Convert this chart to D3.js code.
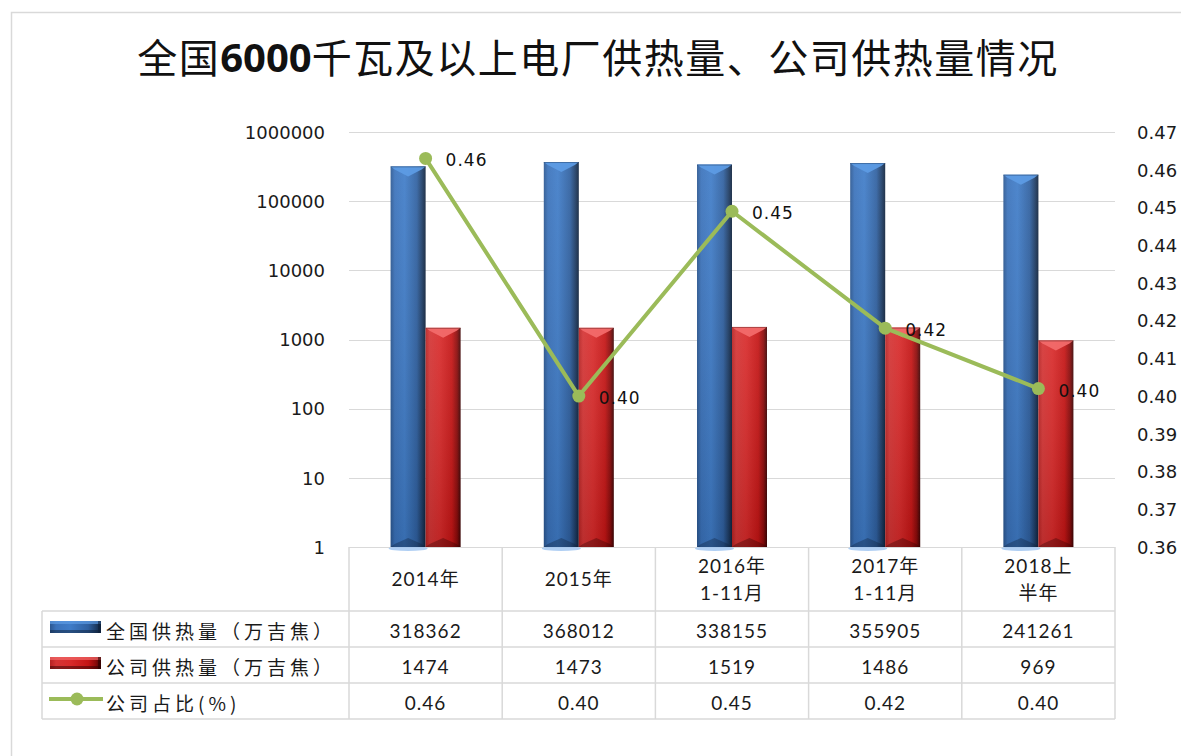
<!DOCTYPE html>
<html lang="zh">
<head>
<meta charset="UTF-8">
<title>全国6000千瓦及以上电厂供热量、公司供热量情况</title>
<style>
  body { margin: 0; background: #fff; }
  svg { display: block; }
  .tick-label { font-family: "DejaVu Sans", sans-serif; font-size: 18px; fill: #1a1a1a; }
  .cell { font-family: Lato, "Noto Sans CJK SC", sans-serif; font-size: 19px; fill: #1a1a1a; letter-spacing: 1px; }
  .legend-text { font-family: "Noto Sans CJK SC", sans-serif; font-size: 19px; fill: #1a1a1a; letter-spacing: 4px; }
  .data-label { font-family: "DejaVu Sans", sans-serif; font-size: 17px; fill: #111; letter-spacing: 1px; }
</style>
</head>
<body>
<svg id="chart" width="1181" height="756"></svg>
<script src="https://cdn.jsdelivr.net/npm/d3@7/dist/d3.min.js"></script>
<script>
const categories = ["2014年", "2015年", "2016年\n1-11月", "2017年\n1-11月", "2018上\n半年"];
const nationalHeat = [318362, 368012, 338155, 355905, 241261];
const companyHeat = [1474, 1473, 1519, 1486, 969];
const companyShare = [0.463, 0.400, 0.449, 0.418, 0.402];
const leftTicks = [1, 10, 100, 1000, 10000, 100000, 1000000];
const rightTicks = [0.36, 0.37, 0.38, 0.39, 0.40, 0.41, 0.42, 0.43, 0.44, 0.45, 0.46, 0.47];
const seriesNames = ["全国供热量（万吉焦）", "公司供热量（万吉焦）", "公司占比(%)"];

const width = 1181, height = 756;
const plot = {left: 349, right: 1115, top: 132, bottom: 547};
const tableLeft = 42;
const rowLines = [547, 611, 647, 683, 719];
const barW = 35;

const svg = d3.select("#chart");
const defs = svg.append("defs");

// bar gradients
function hGrad(id, stops) {
  const g = defs.append("linearGradient").attr("id", id)
    .attr("x1", "0%").attr("x2", "100%").attr("y1", "0%").attr("y2", "0%");
  stops.forEach(s => g.append("stop").attr("offset", s[0]).attr("stop-color", s[1]));
}
hGrad("blueGrad", [["0%", "#2b5791"], ["12%", "#3a72bb"], ["40%", "#3f7cc8"], ["75%", "#2f60a0"], ["90%", "#1e3d66"], ["100%", "#10233d"]]);
hGrad("redGrad", [["0%", "#b62222"], ["12%", "#d43434"], ["40%", "#d82a2a"], ["75%", "#c41414"], ["90%", "#8a0a0a"], ["100%", "#3e0404"]]);
const vg = defs.append("linearGradient").attr("id", "shade")
  .attr("x1", "0%").attr("x2", "0%").attr("y1", "0%").attr("y2", "100%");
vg.append("stop").attr("offset", "0%").attr("stop-color", "#fff").attr("stop-opacity", 0.08);
vg.append("stop").attr("offset", "100%").attr("stop-color", "#000").attr("stop-opacity", 0.12);

// frame
svg.append("rect").attr("x", 11.5).attr("y", 12.5).attr("width", 1200).attr("height", 800)
  .attr("fill", "none").attr("stroke", "#d9d9d9").attr("stroke-width", 1.5);

// title
const title = svg.append("text").attr("x", 598).attr("y", 56)
  .attr("text-anchor", "middle").attr("dominant-baseline", "central")
  .style("font-family", "\"Noto Sans CJK SC\", sans-serif").style("font-size", "40px")
  .style("letter-spacing", "1.5px").style("fill", "#111");
title.append("tspan").text("全国");
title.append("tspan").style("font-weight", "bold").style("font-family", "\"Open Sans\", sans-serif").style("letter-spacing", "0px").text("6000");
title.append("tspan").text("千瓦及以上电厂供热量、公司供热量情况");

// scales
const x = d3.scaleBand().domain(categories).range([plot.left, plot.right]);
const y = d3.scaleLog().domain([1, 1000000]).range([plot.bottom, plot.top]);
const y2 = d3.scaleLinear().domain([0.36, 0.47]).range([plot.bottom, plot.top]);
const cx = c => x(c) + x.bandwidth() / 2;

// gridlines
svg.append("g").selectAll("line").data(leftTicks).join("line")
  .attr("x1", plot.left).attr("x2", plot.right)
  .attr("y1", d => Math.round(y(d)) + 0.5).attr("y2", d => Math.round(y(d)) + 0.5)
  .attr("stroke", "#d9d9d9").attr("stroke-width", 1);

// left axis
const leftAxis = svg.append("g").attr("transform", `translate(${plot.left - 24},0)`)
  .call(d3.axisLeft(y).tickValues(leftTicks).tickFormat(d3.format("d")).tickSize(0).tickPadding(0));
leftAxis.select(".domain").remove();
leftAxis.selectAll("text").attr("class", "tick-label").attr("dy", "0.35em").attr("font-size", null).attr("font-family", null);

// right axis
const rightAxis = svg.append("g").attr("transform", `translate(${plot.right + 22},0)`)
  .call(d3.axisRight(y2).tickValues(rightTicks).tickFormat(d3.format(".2f")).tickSize(0).tickPadding(0));
rightAxis.select(".domain").remove();
rightAxis.selectAll("text").attr("class", "tick-label").attr("dy", "0.35em").attr("font-size", null).attr("font-family", null);

// bars with bevel
function drawBar(g, x0, yTop, yBot, grad, light, dark) {
  const w = barW;
  g.append("rect").attr("x", x0).attr("y", yTop).attr("width", w).attr("height", yBot - yTop)
    .attr("fill", `url(#${grad})`);
  g.append("rect").attr("x", x0).attr("y", yTop).attr("width", w).attr("height", yBot - yTop)
    .attr("fill", "url(#shade)");
  g.append("path")
    .attr("d", `M${x0},${yTop}L${x0 + w},${yTop}L${x0 + w - 4},${yTop + 3}L${x0 + w / 2},${yTop + 10}L${x0 + 4},${yTop + 3}Z`)
    .attr("fill", light).attr("opacity", 0.95);
  g.append("line").attr("x1", x0).attr("x2", x0 + w).attr("y1", yTop + 0.5).attr("y2", yTop + 0.5)
    .attr("stroke", dark).attr("stroke-opacity", 0.35);
  g.append("path")
    .attr("d", `M${x0},${yBot}L${x0 + w},${yBot}L${x0 + w - 4},${yBot - 3}L${x0 + w / 2},${yBot - 9}L${x0 + 4},${yBot - 3}Z`)
    .attr("fill", dark).attr("opacity", 0.35);
}

const bars = svg.append("g");
categories.forEach((c, i) => {
  bars.append("ellipse").attr("cx", cx(c) - barW / 2).attr("cy", plot.bottom + 1.5)
    .attr("rx", barW / 2 + 2).attr("ry", 2.5).attr("fill", "#9cc3f0").attr("opacity", 0.8);
  drawBar(bars, cx(c) - barW, y(nationalHeat[i]), plot.bottom, "blueGrad", "#5d9be4", "#0d1f38");
  drawBar(bars, cx(c), y(companyHeat[i]), plot.bottom, "redGrad", "#f26a6a", "#2e0202");
});

// share line
const line = d3.line().x((d, i) => cx(categories[i])).y(d => y2(d));
svg.append("path").datum(companyShare).attr("d", line)
  .attr("fill", "none").attr("stroke", "#9bbb59").attr("stroke-width", 4).attr("stroke-linejoin", "round");
svg.append("g").selectAll("circle").data(companyShare).join("circle")
  .attr("cx", (d, i) => cx(categories[i])).attr("cy", d => y2(d)).attr("r", 6.5).attr("fill", "#9bbb59");
svg.append("g").selectAll("text").data(companyShare).join("text")
  .attr("class", "data-label")
  .attr("x", (d, i) => cx(categories[i]) + 20).attr("y", d => y2(d) + 2)
  .attr("dominant-baseline", "central")
  .text(d => d.toFixed(2));

// data table
const table = svg.append("g").attr("stroke", "#d9d9d9").attr("stroke-width", 1.5);
rowLines.slice(1).forEach(r => {
  table.append("line").attr("x1", tableLeft).attr("x2", plot.right).attr("y1", r).attr("y2", r);
});
table.append("line").attr("x1", tableLeft).attr("x2", tableLeft).attr("y1", rowLines[1]).attr("y2", rowLines[4]);
const colEdges = categories.map(c => x(c)).concat([plot.right]);
table.selectAll(".vline").data(colEdges).join("line").attr("class", "vline")
  .attr("x1", d => d).attr("x2", d => d).attr("y1", rowLines[0]).attr("y2", rowLines[4]);

// header cells
categories.forEach(c => {
  const parts = c.split("\n");
  const t = svg.append("text").attr("class", "cell").attr("text-anchor", "middle")
    .attr("x", cx(c)).attr("dominant-baseline", "central");
  if (parts.length === 1) {
    t.attr("y", 578).text(parts[0]);
  } else {
    t.attr("y", 565);
    t.append("tspan").attr("x", cx(c)).text(parts[0]);
    t.append("tspan").attr("x", cx(c)).attr("dy", 27).text(parts[1]);
  }
});

// value rows
const rows = [nationalHeat.map(String), companyHeat.map(String), companyShare.map(d => d.toFixed(2))];
rows.forEach((vals, r) => {
  const ym = (rowLines[r + 1] + rowLines[r + 2]) / 2 + 1;
  svg.append("g").selectAll("text").data(vals).join("text")
    .attr("class", "cell").attr("text-anchor", "middle").attr("dominant-baseline", "central")
    .attr("x", (d, i) => cx(categories[i])).attr("y", ym).text(d => d);
  svg.append("text").attr("class", "legend-text").attr("x", 106).attr("y", ym)
    .attr("dominant-baseline", "central").text(seriesNames[r]);
});

// legend keys
function legendBar(yTop, grad, light, dark) {
  const g = svg.append("g");
  g.append("rect").attr("x", 50).attr("y", yTop).attr("width", 51).attr("height", 12).attr("fill", `url(#${grad})`);
  g.append("rect").attr("x", 50).attr("y", yTop).attr("width", 51).attr("height", 3).attr("fill", light).attr("opacity", 0.7);
  g.append("rect").attr("x", 50).attr("y", yTop + 9).attr("width", 51).attr("height", 3).attr("fill", dark).attr("opacity", 0.5);
  g.append("rect").attr("x", 98).attr("y", yTop).attr("width", 3).attr("height", 12).attr("fill", dark).attr("opacity", 0.6);
}
legendBar(621, "blueGrad", "#5d9be4", "#0d1f38");
legendBar(657, "redGrad", "#f26a6a", "#2e0202");
svg.append("line").attr("x1", 49).attr("x2", 103).attr("y1", 699).attr("y2", 699)
  .attr("stroke", "#9bbb59").attr("stroke-width", 4);
svg.append("circle").attr("cx", 77).attr("cy", 699).attr("r", 6.5).attr("fill", "#9bbb59");
</script>
</body>
</html>
